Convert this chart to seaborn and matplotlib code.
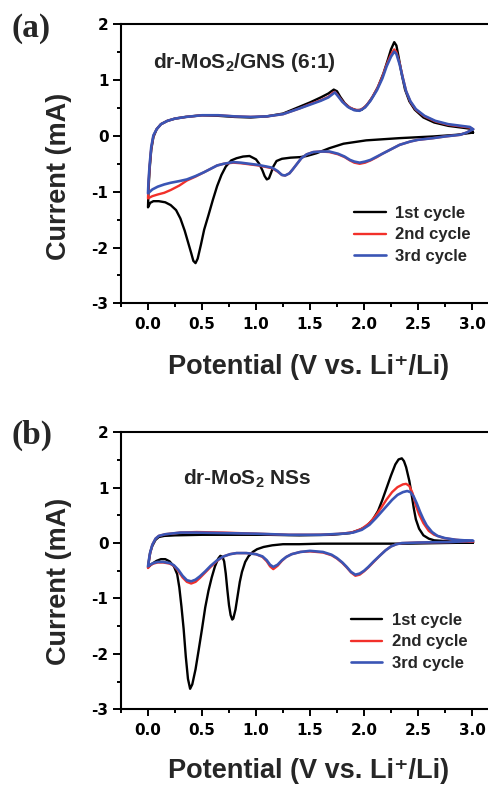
import matplotlib
matplotlib.use("Agg")
import matplotlib.pyplot as plt
from matplotlib.ticker import MultipleLocator
from matplotlib.font_manager import FontProperties
import pandas as pd
import seaborn as sns

# ---------------- data: cyclic voltammograms (potential in V, current in mA) ----------------
# each loop: cathodic sweep 3.0 V -> 0.0 V, then anodic sweep 0.0 V -> 3.0 V

# (a) dr-MoS2/GNS (6:1)
gns_c1_v = [3.01, 2.86, 2.64, 2.33, 2.02, 1.81, 1.68, 1.56, 1.47, 1.41, 1.32, 1.24, 1.19, 1.16, 1.14,
            1.12, 1.10, 1.08, 1.06, 1.03, 1.00, 0.94, 0.88, 0.82, 0.77, 0.72, 0.68, 0.64, 0.60, 0.56,
            0.52, 0.49, 0.46, 0.44, 0.42, 0.40, 0.37, 0.34, 0.30, 0.26, 0.21, 0.16, 0.10, 0.05, 0.02, 0.00,
            0.005, 0.015, 0.03, 0.05, 0.08, 0.12, 0.18, 0.25, 0.35, 0.50, 0.65, 0.80, 0.95, 1.10, 1.25,
            1.40, 1.50, 1.60, 1.67, 1.72, 1.75, 1.78, 1.82, 1.87, 1.93, 1.98, 2.03, 2.08, 2.13, 2.18,
            2.22, 2.25, 2.28, 2.30, 2.32, 2.35, 2.38, 2.42, 2.47, 2.55, 2.65, 2.78, 2.90, 2.98, 3.01]
gns_c1_i = [0.06, 0.02, -0.01, -0.04, -0.08, -0.14, -0.22, -0.31, -0.36, -0.38, -0.39, -0.41, -0.45, -0.55, -0.66,
            -0.76, -0.78, -0.72, -0.62, -0.50, -0.42, -0.36, -0.37, -0.40, -0.44, -0.55, -0.70, -0.90, -1.15, -1.42,
            -1.68, -1.95, -2.20, -2.28, -2.24, -2.10, -1.90, -1.70, -1.48, -1.33, -1.24, -1.19, -1.17, -1.17, -1.20, -1.28,
            -0.95, -0.60, -0.25, -0.02, 0.12, 0.21, 0.27, 0.31, 0.34, 0.37, 0.36, 0.34, 0.33, 0.35, 0.40,
            0.52, 0.60, 0.69, 0.76, 0.83, 0.80, 0.70, 0.59, 0.50, 0.46, 0.47, 0.56, 0.70, 0.88, 1.12,
            1.36, 1.55, 1.68, 1.62, 1.42, 1.10, 0.83, 0.62, 0.47, 0.33, 0.24, 0.18, 0.15, 0.13, 0.06]

gns_c2_v = [3.01, 2.95, 2.89, 2.75, 2.64, 2.50, 2.43, 2.33, 2.24, 2.17, 2.12, 2.06, 2.01, 1.96, 1.91,
            1.87, 1.82, 1.76, 1.68, 1.60, 1.53, 1.47, 1.42, 1.38, 1.34, 1.31, 1.27, 1.24, 1.20, 1.15,
            1.10, 1.02, 0.94, 0.86, 0.79, 0.70, 0.64, 0.58, 0.52, 0.44, 0.36, 0.29, 0.21, 0.15, 0.09, 0.04, 0.00,
            0.005, 0.015, 0.03, 0.05, 0.08, 0.12, 0.18, 0.25, 0.35, 0.50, 0.65, 0.80, 0.95, 1.10, 1.25,
            1.40, 1.50, 1.60, 1.67, 1.71, 1.73, 1.76, 1.80, 1.85, 1.91, 1.96, 2.01, 2.06, 2.12, 2.17,
            2.21, 2.25, 2.28, 2.30, 2.33, 2.36, 2.39, 2.43, 2.48, 2.56, 2.66, 2.78, 2.90, 2.98, 3.01]
gns_c2_i = [0.12, 0.06, 0.02, -0.01, -0.04, -0.07, -0.10, -0.16, -0.25, -0.32, -0.38, -0.44, -0.48, -0.50, -0.48,
            -0.44, -0.38, -0.33, -0.29, -0.28, -0.29, -0.33, -0.40, -0.50, -0.60, -0.67, -0.71, -0.70, -0.64, -0.58,
            -0.56, -0.53, -0.51, -0.49, -0.48, -0.50, -0.53, -0.59, -0.65, -0.73, -0.80, -0.89, -0.97, -1.02, -1.05, -1.08, -1.12,
            -0.85, -0.55, -0.22, 0.00, 0.12, 0.21, 0.27, 0.31, 0.34, 0.37, 0.37, 0.35, 0.34, 0.35, 0.39,
            0.49, 0.57, 0.64, 0.70, 0.77, 0.79, 0.72, 0.62, 0.53, 0.47, 0.46, 0.52, 0.64, 0.84, 1.06,
            1.28, 1.46, 1.55, 1.50, 1.30, 1.04, 0.80, 0.61, 0.47, 0.35, 0.26, 0.20, 0.17, 0.15, 0.12]

gns_c3_v = gns_c2_v
gns_c3_i = [0.12, 0.06, 0.02, -0.01, -0.04, -0.07, -0.10, -0.16, -0.25, -0.32, -0.37, -0.43, -0.46, -0.48, -0.46,
            -0.43, -0.37, -0.32, -0.28, -0.28, -0.29, -0.33, -0.40, -0.50, -0.60, -0.67, -0.71, -0.70, -0.63, -0.57,
            -0.55, -0.52, -0.50, -0.48, -0.47, -0.50, -0.53, -0.59, -0.65, -0.72, -0.78, -0.81, -0.84, -0.87, -0.91, -0.96, -1.03,
            -0.80, -0.52, -0.20, 0.01, 0.12, 0.21, 0.27, 0.31, 0.34, 0.37, 0.37, 0.35, 0.34, 0.35, 0.39,
            0.49, 0.56, 0.63, 0.69, 0.75, 0.78, 0.71, 0.61, 0.52, 0.46, 0.45, 0.51, 0.63, 0.82, 1.03,
            1.25, 1.42, 1.51, 1.47, 1.28, 1.03, 0.80, 0.62, 0.48, 0.36, 0.27, 0.21, 0.18, 0.16, 0.12]

# (b) dr-MoS2 NSs
nss_c1_v = [3.01, 2.70, 2.40, 2.00, 1.60, 1.40, 1.25, 1.15, 1.07, 1.01, 0.97, 0.93, 0.90, 0.87, 0.85,
            0.83, 0.81, 0.79, 0.78, 0.765, 0.75, 0.735, 0.72, 0.705, 0.69, 0.67, 0.65, 0.62, 0.59, 0.56,
            0.53, 0.50, 0.47, 0.44, 0.41, 0.39, 0.37, 0.35, 0.33, 0.31, 0.29, 0.27, 0.24, 0.20, 0.16,
            0.12, 0.08, 0.04, 0.00,
            0.01, 0.02, 0.04, 0.07, 0.10, 0.15, 0.25, 0.50, 0.80, 1.10, 1.40, 1.70, 1.87, 1.96, 2.02,
            2.08, 2.13, 2.17, 2.21, 2.25, 2.29, 2.32, 2.35, 2.37, 2.39, 2.42, 2.44, 2.46, 2.48, 2.51,
            2.55, 2.60, 2.65, 2.80, 3.01]
nss_c1_i = [0.01, 0.00, -0.01, -0.01, -0.01, -0.02, -0.02, -0.04, -0.07, -0.11, -0.16, -0.24, -0.34, -0.52, -0.70,
            -0.95, -1.20, -1.36, -1.38, -1.30, -1.12, -0.85, -0.55, -0.33, -0.25, -0.23, -0.28, -0.42, -0.62, -0.86,
            -1.16, -1.55, -1.92, -2.28, -2.55, -2.63, -2.45, -2.05, -1.55, -1.15, -0.80, -0.56, -0.42, -0.33, -0.29,
            -0.29, -0.32, -0.37, -0.44,
            -0.30, -0.17, -0.05, 0.06, 0.11, 0.13, 0.14, 0.15, 0.15, 0.15, 0.14, 0.15, 0.18, 0.24, 0.30,
            0.42, 0.58, 0.78, 1.00, 1.22, 1.42, 1.51, 1.53, 1.48, 1.37, 1.12, 0.89, 0.64, 0.43, 0.26,
            0.14, 0.08, 0.05, 0.03, 0.01]

nss_c2_v = [3.01, 2.80, 2.50, 2.35, 2.30, 2.25, 2.20, 2.15, 2.09, 2.04, 2.00, 1.96, 1.92, 1.88, 1.84,
            1.80, 1.75, 1.70, 1.62, 1.50, 1.41, 1.33, 1.28, 1.24, 1.20, 1.16, 1.13, 1.10, 1.06, 1.00,
            0.91, 0.82, 0.76, 0.70, 0.64, 0.58, 0.53, 0.48, 0.44, 0.40, 0.36, 0.32, 0.28, 0.24, 0.20,
            0.14, 0.09, 0.05, 0.02, 0.00,
            0.01, 0.02, 0.04, 0.07, 0.10, 0.16, 0.30, 0.45, 0.70, 1.00, 1.30, 1.60, 1.80, 1.90, 1.98,
            2.05, 2.11, 2.16, 2.21, 2.26, 2.31, 2.36, 2.39, 2.42, 2.45, 2.48, 2.51, 2.55, 2.60, 2.65,
            2.74, 2.85, 3.01]
nss_c2_i = [0.03, 0.02, 0.01, 0.00, -0.02, -0.06, -0.13, -0.22, -0.34, -0.44, -0.51, -0.57, -0.59, -0.53, -0.44,
            -0.36, -0.28, -0.22, -0.17, -0.15, -0.16, -0.20, -0.25, -0.32, -0.41, -0.47, -0.42, -0.33, -0.25, -0.20,
            -0.18, -0.18, -0.20, -0.24, -0.32, -0.43, -0.53, -0.63, -0.70, -0.73, -0.70, -0.62, -0.50, -0.41, -0.37,
            -0.35, -0.35, -0.37, -0.40, -0.45,
            -0.30, -0.18, -0.03, 0.08, 0.13, 0.16, 0.19, 0.20, 0.19, 0.17, 0.15, 0.15, 0.17, 0.20, 0.26,
            0.36, 0.50, 0.64, 0.79, 0.92, 1.01, 1.06, 1.07, 1.03, 0.90, 0.68, 0.52, 0.36, 0.22, 0.15,
            0.09, 0.06, 0.03]

nss_c3_v = [3.01, 2.80, 2.50, 2.35, 2.30, 2.25, 2.20, 2.15, 2.09, 2.04, 2.00, 1.96, 1.92, 1.88, 1.84,
            1.80, 1.75, 1.70, 1.62, 1.50, 1.41, 1.33, 1.28, 1.24, 1.20, 1.16, 1.13, 1.10, 1.06, 1.00,
            0.91, 0.82, 0.76, 0.70, 0.64, 0.58, 0.53, 0.48, 0.44, 0.40, 0.36, 0.32, 0.28, 0.24, 0.20,
            0.14, 0.09, 0.05, 0.02, 0.00,
            0.01, 0.02, 0.04, 0.07, 0.10, 0.16, 0.30, 0.45, 0.70, 1.00, 1.30, 1.60, 1.80, 1.90, 1.98,
            2.05, 2.11, 2.16, 2.21, 2.26, 2.31, 2.36, 2.40, 2.43, 2.46, 2.49, 2.52, 2.55, 2.58, 2.63,
            2.68, 2.75, 2.85, 3.01]
nss_c3_i = [0.04, 0.02, 0.01, 0.00, -0.02, -0.06, -0.13, -0.22, -0.33, -0.43, -0.50, -0.55, -0.57, -0.52, -0.43,
            -0.35, -0.27, -0.21, -0.16, -0.14, -0.16, -0.20, -0.25, -0.31, -0.39, -0.43, -0.39, -0.31, -0.24, -0.20,
            -0.18, -0.18, -0.20, -0.24, -0.31, -0.41, -0.51, -0.60, -0.66, -0.69, -0.67, -0.59, -0.48, -0.40, -0.36,
            -0.34, -0.34, -0.36, -0.39, -0.42,
            -0.28, -0.17, -0.03, 0.08, 0.13, 0.16, 0.19, 0.19, 0.18, 0.17, 0.15, 0.15, 0.17, 0.19, 0.24,
            0.33, 0.45, 0.56, 0.67, 0.78, 0.87, 0.92, 0.94, 0.92, 0.84, 0.71, 0.56, 0.43, 0.32, 0.20,
            0.13, 0.09, 0.06, 0.04]

cycle_labels = ["1st cycle", "2nd cycle", "3rd cycle"]
cycle_colors = ["#000000", "#f2302a", "#3a55b5"]
panel_titles = ["dr-MoS$_2$/GNS (6:1)", "dr-MoS$_2$ NSs"]
panel_tags = ["(a)", "(b)"]
x_ticks = [0.0, 0.5, 1.0, 1.5, 2.0, 2.5, 3.0]
x_tick_labels = ["0.0", "0.5", "1.0", "1.5", "2.0", "2.5", "3.0"]
y_ticks = [-3, -2, -1, 0, 1, 2]
y_tick_labels = ["-3", "-2", "-1", "0", "1", "2"]
x_title = "Potential (V vs. Li\u207a/Li)"
y_title = "Current (mA)"

# ---------------- style ----------------
sns.set_style("ticks")
plt.rcParams["font.family"] = ["Liberation Sans", "DejaVu Sans"]
plt.rcParams["font.weight"] = "bold"
plt.rcParams["mathtext.fontset"] = "custom"
plt.rcParams["mathtext.rm"] = "Liberation Sans:bold"
plt.rcParams["mathtext.it"] = "Liberation Sans:bold"
plt.rcParams["mathtext.bf"] = "Liberation Sans:bold"
plt.rcParams["axes.unicode_minus"] = False

fig = plt.figure(figsize=(4.89, 7.85), dpi=100)
ax_a = fig.add_axes([121 / 489, 1 - 303.3 / 785, 378 / 489, 279 / 785])
ax_b = fig.add_axes([121 / 489, 1 - 709.3 / 785, 378 / 489, 277 / 785])

panels = [
    (ax_a, [(gns_c1_v, gns_c1_i), (gns_c2_v, gns_c2_i), (gns_c3_v, gns_c3_i)]),
    (ax_b, [(nss_c1_v, nss_c1_i), (nss_c2_v, nss_c2_i), (nss_c3_v, nss_c3_i)]),
]

title_pos = [(0.085, 0.842), (0.164, 0.81)]
legend_pos = [(0.616, 0.245), (0.608, 0.243)]
ylabel_y = [0.456, 0.461]
xlabel_y = [-0.228, -0.222]
tag_y = [29, 435]

tick_font = FontProperties(family="DejaVu Sans", weight="bold", size=11)
legend_font = FontProperties(family="Liberation Sans", weight="bold", size=12)

for k, (ax, curves) in enumerate(panels):
    for (v, i), lab, col in zip(curves, cycle_labels, cycle_colors):
        df = pd.DataFrame({"Potential": v, "Current": i})
        sns.lineplot(data=df, x="Potential", y="Current", sort=False, estimator=None,
                     color=col, lw=1.7 if col != "#3a55b5" else 1.9, label=lab, ax=ax)

    ax.set_xlim(-0.25, 3.25)
    ax.set_ylim(-3, 2)
    ax.set_xticks(x_ticks)
    ax.set_xticklabels(x_tick_labels, fontproperties=tick_font)
    ax.set_yticks(y_ticks)
    ax.set_yticklabels(y_tick_labels, fontproperties=tick_font)
    ax.xaxis.set_minor_locator(MultipleLocator(0.25))
    ax.yaxis.set_minor_locator(MultipleLocator(0.5))
    ax.tick_params(which="both", direction="out", width=1.4, colors="black")
    ax.tick_params(axis="x", which="major", length=5, pad=5)
    ax.tick_params(axis="y", which="major", length=5.5, pad=3.5)
    ax.tick_params(which="minor", length=3)
    for sp in ax.spines.values():
        sp.set_linewidth(1.5)
        sp.set_color("black")
        sp.set_visible(True)

    ax.set_xlabel(x_title, fontsize=19.5, fontweight="bold",
                  family=["Liberation Sans", "DejaVu Sans"])
    ax.set_ylabel(y_title, fontsize=19.5, fontweight="bold")
    ax.xaxis.label.set_va("center")
    ax.yaxis.label.set_va("center")
    ax.xaxis.set_label_coords(0.495, xlabel_y[k])
    ax.yaxis.set_label_coords(-0.165, ylabel_y[k])

    ax.text(title_pos[k][0], title_pos[k][1], panel_titles[k], transform=ax.transAxes,
            fontsize=15, fontweight="bold", ha="left", va="baseline")

    ax.legend(loc="center left", bbox_to_anchor=legend_pos[k], frameon=False,
              borderpad=0, borderaxespad=0, handlelength=1.9, handletextpad=0.55,
              labelspacing=0.38, prop=legend_font)

    fig.text(12 / 489, 1 - tag_y[k] / 785, panel_tags[k], fontsize=24, fontweight="bold",
             family="Liberation Serif", ha="left", va="center")

fig.savefig("out.png", dpi=100)
